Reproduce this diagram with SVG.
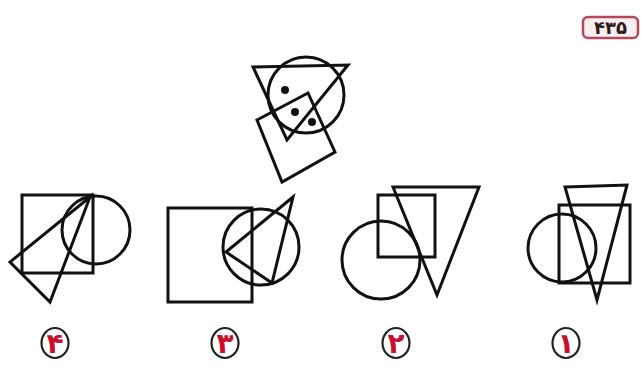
<svg xmlns="http://www.w3.org/2000/svg" width="643" height="368" viewBox="0 0 643 368">
<style>
.s{fill:none;stroke:#111;stroke-width:3;stroke-linejoin:miter}
.lab{fill:#fff;stroke:#222;stroke-width:2.2}
.num{font-family:"DejaVu Sans",sans-serif;font-size:28px;font-weight:bold;fill:#c8102e;text-anchor:middle}
</style>
<rect width="643" height="368" fill="#fff"/>
<g id="badge">
<rect x="583" y="17" width="55" height="21" rx="5" fill="#fbeef0" stroke="#b5475a" stroke-width="2.5"/>
<text x="610.5" y="34" font-family="DejaVu Sans,sans-serif" font-size="18" font-weight="bold" fill="#2a1a1a" text-anchor="middle">۴۳۵</text>
</g>
<g id="question">
<polygon class="s" points="253,67 348,65 287,140"/>
<circle class="s" cx="306" cy="95" r="38"/>
<polygon class="s" points="257,120 308,93 335,152 282,182"/>
<circle cx="285" cy="90" r="4" fill="#111"/>
<circle cx="295" cy="112" r="4" fill="#111"/>
<circle cx="312" cy="122" r="4" fill="#111"/>
</g>
<g id="option4">
<rect class="s" x="22" y="195" width="71" height="78"/>
<circle class="s" cx="96" cy="230" r="34"/>
<polygon class="s" points="90,197 10,262 50,302"/>
</g>
<g id="option3">
<rect class="s" x="168" y="208" width="84" height="94"/>
<circle class="s" cx="261" cy="247" r="38"/>
<polygon class="s" points="293,197 226,252 272,283"/>
</g>
<g id="option2">
<polygon class="s" points="393,187 479,187 437,295"/>
<rect class="s" x="378" y="195" width="57" height="62"/>
<circle class="s" cx="381" cy="260" r="39"/>
</g>
<g id="option1">
<polygon class="s" points="565,187 627,185 597,300"/>
<rect class="s" x="559" y="205" width="71" height="78"/>
<circle class="s" cx="562" cy="248" r="34"/>
</g>
<g id="labels">
<ellipse class="lab" cx="55" cy="343" rx="13.5" ry="15"/>
<text class="num" x="55" y="353">۴</text>
<ellipse class="lab" cx="225" cy="343" rx="13.5" ry="15"/>
<text class="num" x="225" y="353">۳</text>
<ellipse class="lab" cx="396" cy="343" rx="13.5" ry="15"/>
<text class="num" x="396" y="353">۲</text>
<ellipse class="lab" cx="566" cy="343" rx="13.5" ry="15"/>
<text class="num" x="566" y="353">۱</text>
</g>
</svg>
